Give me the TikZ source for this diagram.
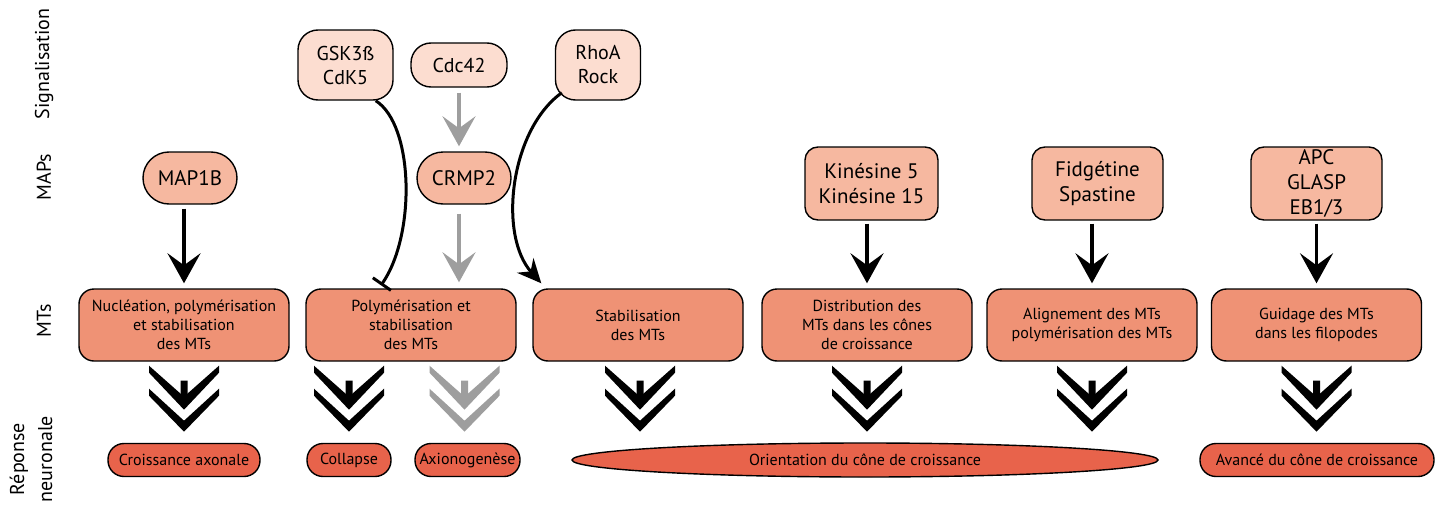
\documentclass[tikz,border=0pt]{standalone}
\usepackage{fontspec}
\setmainfont{PT Sans}
\usetikzlibrary{arrows.meta,shapes.geometric}
\definecolor{sigc}{HTML}{FCDDD0}
\definecolor{mapc}{HTML}{F6B8A0}
\definecolor{mtc}{HTML}{EF9275}
\definecolor{repc}{HTML}{E8634B}
\definecolor{grayc}{HTML}{9E9E9E}
\tikzset{
  lab/.style={rotate=90, align=center, font=\fontsize{20}{28}\selectfont, inner sep=0pt},
  sig/.style={draw, line width=1.4pt, fill=sigc, rounded corners=20pt, align=center,
    font=\fontsize{20}{24}\selectfont, inner sep=0pt},
  mapbox/.style={draw, line width=1.4pt, fill=mapc, align=center,
    font=\fontsize{21}{25}\selectfont, inner sep=0pt},
  mtbox/.style={draw, line width=1.4pt, fill=mtc, rounded corners=15pt, minimum width=210pt,
    minimum height=72pt, align=center, font=\fontsize{16}{19}\selectfont, inner sep=0pt},
  repbox/.style={draw, line width=1.4pt, fill=repc, rounded corners=16pt, minimum height=33pt,
    font=\fontsize{16}{18}\selectfont, inner sep=0pt},
  bigarrow/.style={line width=3.5pt, -{Stealth[length=30pt,width=33pt,inset=12pt]}},
  curvearrow/.style={line width=3pt, -{Stealth[length=24pt,width=22pt,inset=8pt]}},
  inhib/.style={line width=3pt, -{Bar[width=22pt]}},
  chev/.pic={
    \fill[#1] (-35,0) -- (0,31) -- (35,0) -- (35,7) -- (0,44) -- (-35,7) -- cycle;
    \fill[#1] (-35,23) -- (0,55) -- (35,23) -- (35,30) -- (0,66) -- (-35,30) -- cycle;
    \fill[#1] (-3.5,15) -- (3.5,15) -- (3.5,31) -- (0,36) -- (-3.5,31) -- cycle;
  }
}
\begin{document}
\begin{tikzpicture}[x=1pt,y=-1pt]
\useasboundingbox (0,0) rectangle (1446,506);

% row labels
\node[lab] (lsig) at (44,64) {Signalisation};
\node[lab] (lmap) at (44,177) {MAPs};
\node[lab] (lmt) at (44,321) {MTs};
\node[lab] (lrep) at (31,459) {Réponse\\neuronale};

% signalling
\node[sig, minimum width=95pt, minimum height=70pt] (gsk) at (345.5,65) {GSK3ß\\CdK5};
\node[sig, minimum width=96pt, minimum height=44pt] (cdc) at (459,65) {Cdc42};
\node[sig, minimum width=85pt, minimum height=70pt] (rho) at (598,65) {RhoA\\Rock};

% MAPs
\node[mapbox, minimum width=94pt, minimum height=52pt, rounded corners=26pt] (map1b) at (190,178) {MAP1B};
\node[mapbox, minimum width=94pt, minimum height=52pt, rounded corners=26pt] (crmp) at (464,178) {CRMP2};
\node[mapbox, minimum width=133pt, minimum height=73pt, rounded corners=13pt] (kin) at (871.5,183.5) {Kinésine 5\\Kinésine 15};
\node[mapbox, minimum width=131pt, minimum height=73pt, rounded corners=13pt] (fid) at (1097.5,183.5) {Fidgétine\\Spastine};
\node[mapbox, minimum width=131pt, minimum height=73pt, rounded corners=13pt] (apc) at (1316.5,183.5) {APC\\GLASP\\EB1/3};

% MTs
\node[mtbox] (b1) at (184,325) {Nucléation, polymérisation\\et stabilisation\\des MTs};
\node[mtbox] (b2) at (411,325) {Polymérisation et\\stabilisation\\des MTs};
\node[mtbox] (b3) at (638,325) {Stabilisation\\des MTs};
\node[mtbox] (b4) at (867,325) {Distribution des\\MTs dans les cônes\\de croissance};
\node[mtbox] (b5) at (1092,325) {Alignement des MTs\\polymérisation des MTs};
\node[mtbox] (b6) at (1316.5,325) {Guidage des MTs\\dans les filopodes};

% responses
\node[repbox, minimum width=152pt] (r1) at (184,460) {Croissance axonale};
\node[repbox, minimum width=84pt] (r2) at (349,460) {Collapse};
\node[repbox, minimum width=105pt] (r3) at (467.5,460) {Axionogenèse};
\node[draw, line width=1.4pt, fill=repc, ellipse, minimum width=586pt, minimum height=34pt,
  inner sep=0pt, font=\fontsize{16}{18}\selectfont] (r4) at (865,460) {Orientation du cône de croissance};
\node[repbox, minimum width=234pt] (r5) at (1317,460) {Avancé du cône de croissance};

% MAP -> MT arrows
\draw[bigarrow, shorten <=4pt, shorten >=5pt] (map1b.south -| b1.north) -- (b1.north);
\draw[bigarrow, shorten <=3pt, shorten >=5pt] (kin.south -| b4.north) -- (b4.north);
\draw[bigarrow, shorten <=3pt, shorten >=5pt] (fid.south -| b5.north) -- (b5.north);
\draw[bigarrow, shorten <=3pt, shorten >=5pt] (apc.south -| b6.north) -- (b6.north);

% gray pathway
\draw[bigarrow, grayc, shorten <=5pt, shorten >=5pt] (cdc.south) -- (cdc.south |- crmp.north);
\draw[bigarrow, grayc, shorten <=9pt, shorten >=6pt] (crmp.south -| cdc.south) -- (b2.north -| cdc.south);

% curved regulations
\draw[inhib] ([xshift=-18pt]gsk.south east) .. controls (414,125) and (416,235) .. ([xshift=-30pt,yshift=3pt]b2.north);
\draw[curvearrow] ([shift={(7,-8)}]rho.south west) .. controls (510,130) and (498,235) .. ([xshift=9pt,yshift=5pt]b3.north west);

% chevrons
\path (b1.south) ++(0,4) pic {chev=black};
\path (r2.north |- b2.south) ++(0,4) pic {chev=black};
\path (r3.north |- b2.south) ++(-3,4) pic {chev=grayc};
\path (b3.south) ++(2,4) pic {chev=black};
\path (b4.south) ++(0,4) pic {chev=black};
\path (b5.south) ++(0,4) pic {chev=black};
\path (b6.south) ++(0,4) pic {chev=black};
\end{tikzpicture}
\end{document}
